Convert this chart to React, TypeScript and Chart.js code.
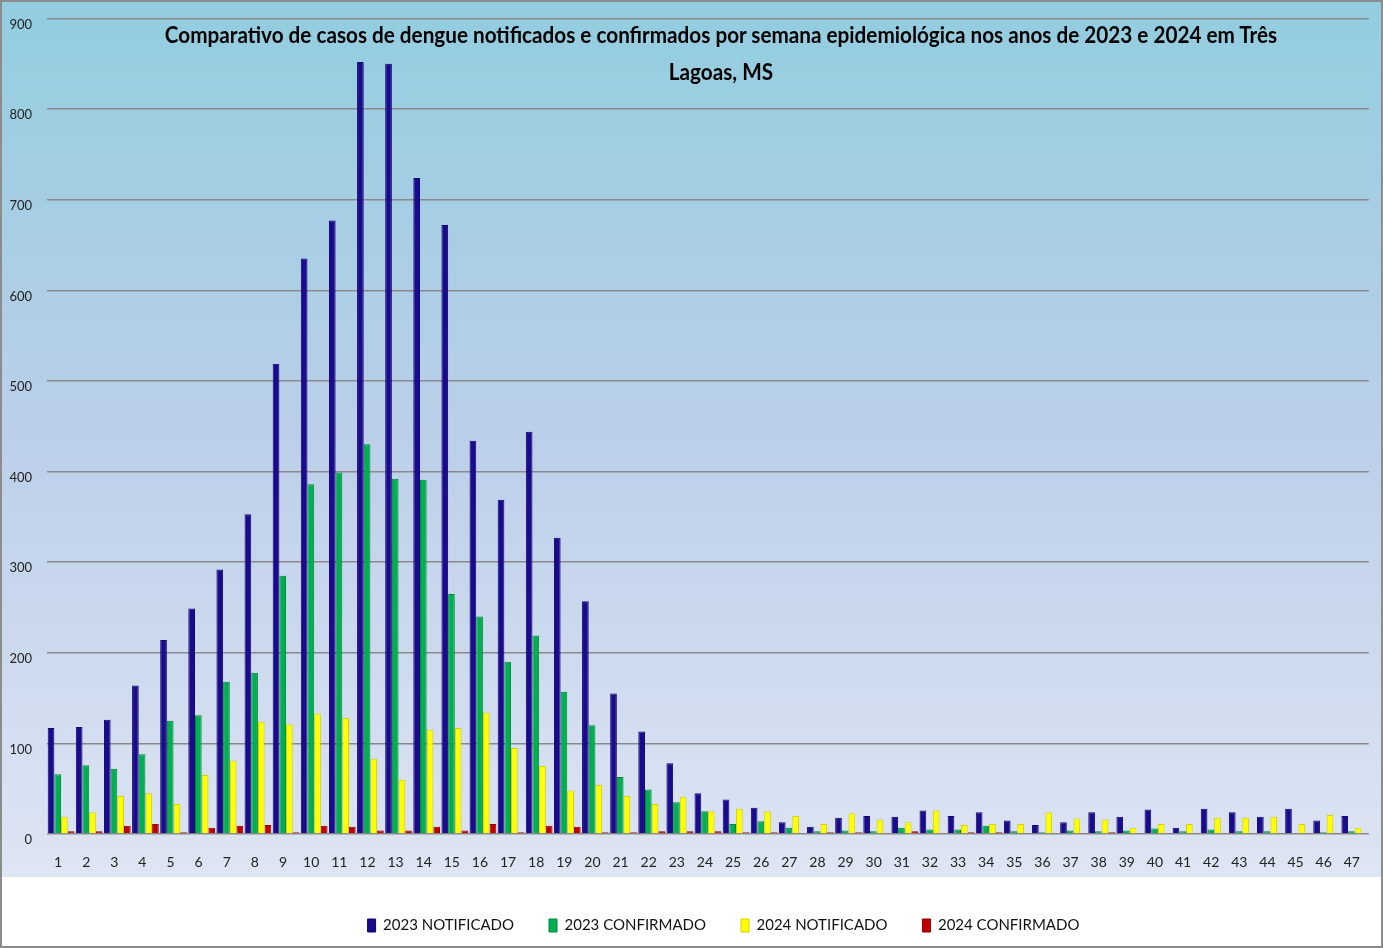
import React, { useEffect, useRef } from "react";
import { Chart, registerables } from "chart.js";

Chart.register(...registerables);

const weeks = Array.from({ length: 47 }, (_, i) => String(i + 1));

const notificado2023 = [
  117, 118, 126, 164, 214, 249, 292, 353, 519, 635,
  677, 852, 850, 724, 672, 434, 369, 444, 327, 257,
  155, 113, 78, 45, 38, 29, 13, 8, 18, 20,
  19, 26, 20, 24, 15, 10, 13, 24, 19, 27,
  7, 28, 24, 19, 28, 15, 20,
];
const confirmado2023 = [
  66, 76, 72, 88, 125, 131, 168, 178, 285, 386,
  399, 430, 392, 391, 265, 240, 190, 219, 157, 120,
  63, 49, 35, 25, 11, 14, 7, 3, 4, 3,
  7, 5, 5, 9, 3, 2, 4, 3, 4, 6,
  3, 5, 3, 3, 1, 2, 3,
];
const notificado2024 = [
  19, 24, 42, 45, 33, 65, 81, 124, 121, 133,
  128, 83, 60, 115, 117, 134, 95, 75, 48, 54,
  42, 33, 41, 25, 28, 25, 20, 11, 23, 16,
  13, 26, 10, 11, 11, 24, 17, 16, 7, 11,
  11, 18, 18, 19, 11, 21, 7,
];
const confirmado2024 = [
  3, 3, 9, 11, 2, 7, 9, 10, 2, 9,
  8, 4, 4, 8, 4, 11, 2, 9, 8, 2,
  2, 3, 3, 3, 2, 2, 1, 2, 2, 1,
  3, 1, 2, 2, 1, 1, 1, 2, 1, 1,
  1, 1, 1, 1, 1, 1, 1,
];

const seriesLabels = ["2023 NOTIFICADO", "2023 CONFIRMADO", "2024 NOTIFICADO", "2024 CONFIRMADO"];
const seriesColors = ["#1a0a8e", "#00b050", "#ffff00", "#c00000"];
const seriesBorders = ["#12066a", "#00883e", "#d8d000", "#900000"];

const FONT = 'Lato, "Open Sans", sans-serif';

const bgPlugin = {
  id: "bgPlugin",
  afterLayout(chart: any) {
    const lg = chart.legend;
    if (lg) {
      lg.left += 38;
      lg.right += 38;
    }
  },
  beforeDraw(chart: any) {
    const { ctx, width, height, chartArea } = chart;
    const gBottom = chartArea.bottom + 43;
    ctx.save();
    ctx.fillStyle = "#ffffff";
    ctx.fillRect(0, 0, width, height);
    const g = ctx.createLinearGradient(0, 0, 0, gBottom);
    g.addColorStop(0, "#92cddf");
    g.addColorStop(0.5, "#bccfe9");
    g.addColorStop(1, "#dee5f3");
    ctx.fillStyle = g;
    ctx.fillRect(0, 0, width, gBottom);
    ctx.restore();
  },
  afterDraw(chart: any) {
    const { ctx, width, height } = chart;
    ctx.save();
    ctx.strokeStyle = "#8c8c8c";
    ctx.lineWidth = 2;
    ctx.strokeRect(1, 1, width - 2, height - 2);
    ctx.restore();
  },
};

export default function App() {
  const canvasRef = useRef<HTMLCanvasElement>(null);

  useEffect(() => {
    document.body.style.margin = "0";
    const canvas = canvasRef.current;
    if (!canvas) return;
    const data = [notificado2023, confirmado2023, notificado2024, confirmado2024];
    const chart = new Chart(canvas, {
      type: "bar",
      data: {
        labels: weeks,
        datasets: data.map((d, i) => ({
          label: seriesLabels[i],
          data: d,
          backgroundColor: seriesColors[i],
          borderColor: seriesBorders[i],
          borderWidth: 1,
          categoryPercentage: 0.95,
          barPercentage: 1.0,
        })),
      },
      options: {
        responsive: false,
        animation: false,
        devicePixelRatio: 1,
        layout: { padding: { left: 0, right: 12, top: 18.5, bottom: 5 } },
        plugins: {
          title: { display: false },
          tooltip: { enabled: false },
          legend: {
            position: "bottom",
            labels: {
              boxWidth: 8,
              boxHeight: 13,
              padding: 35,
              color: "#111",
              font: { family: FONT, size: 15 },
            },
          },
        },
        scales: {
          x: {
            grid: { display: false, drawTicks: false },
            border: { display: false },
            ticks: {
              color: "#222",
              font: { family: FONT, size: 14 },
              padding: 20,
              maxRotation: 0,
              autoSkip: false,
              labelOffset: -3,
            },
            afterFit(scale: any) {
              scale.height = 49;
            },
          },
          y: {
            min: 0,
            max: 900,
            grid: { color: "#8a8a8a", lineWidth: 1.5, drawTicks: false },
            border: { display: false },
            ticks: {
              stepSize: 100,
              color: "#222",
              font: { family: FONT, size: 13 },
              padding: 15,
              labelOffset: 6,
            },
            afterFit(scale: any) {
              scale.width = 47;
              scale.paddingTop = 0;
              scale.paddingBottom = 0;
            },
          },
        },
      },
      plugins: [bgPlugin],
    });
    return () => chart.destroy();
  }, []);

  const lineStyle: React.CSSProperties = {
    whiteSpace: "nowrap",
    transform: "scaleX(0.9)",
    transformOrigin: "center",
  };

  return (
    <div style={{ position: "relative", width: 1383, height: 948 }}>
      <canvas ref={canvasRef} width={1383} height={948} style={{ display: "block" }} />
      <div
        style={{
          position: "absolute",
          top: 16,
          left: 59,
          width: 1324,
          textAlign: "center",
          fontFamily: FONT,
          fontWeight: "bold",
          fontSize: 23,
          lineHeight: "37px",
          color: "#000",
        }}
      >
        <div style={lineStyle}>
          Comparativo de casos de dengue notificados e confirmados por semana epidemiológica nos anos de 2023 e 2024 em Três
        </div>
        <div style={lineStyle}>Lagoas, MS</div>
      </div>
    </div>
  );
}
